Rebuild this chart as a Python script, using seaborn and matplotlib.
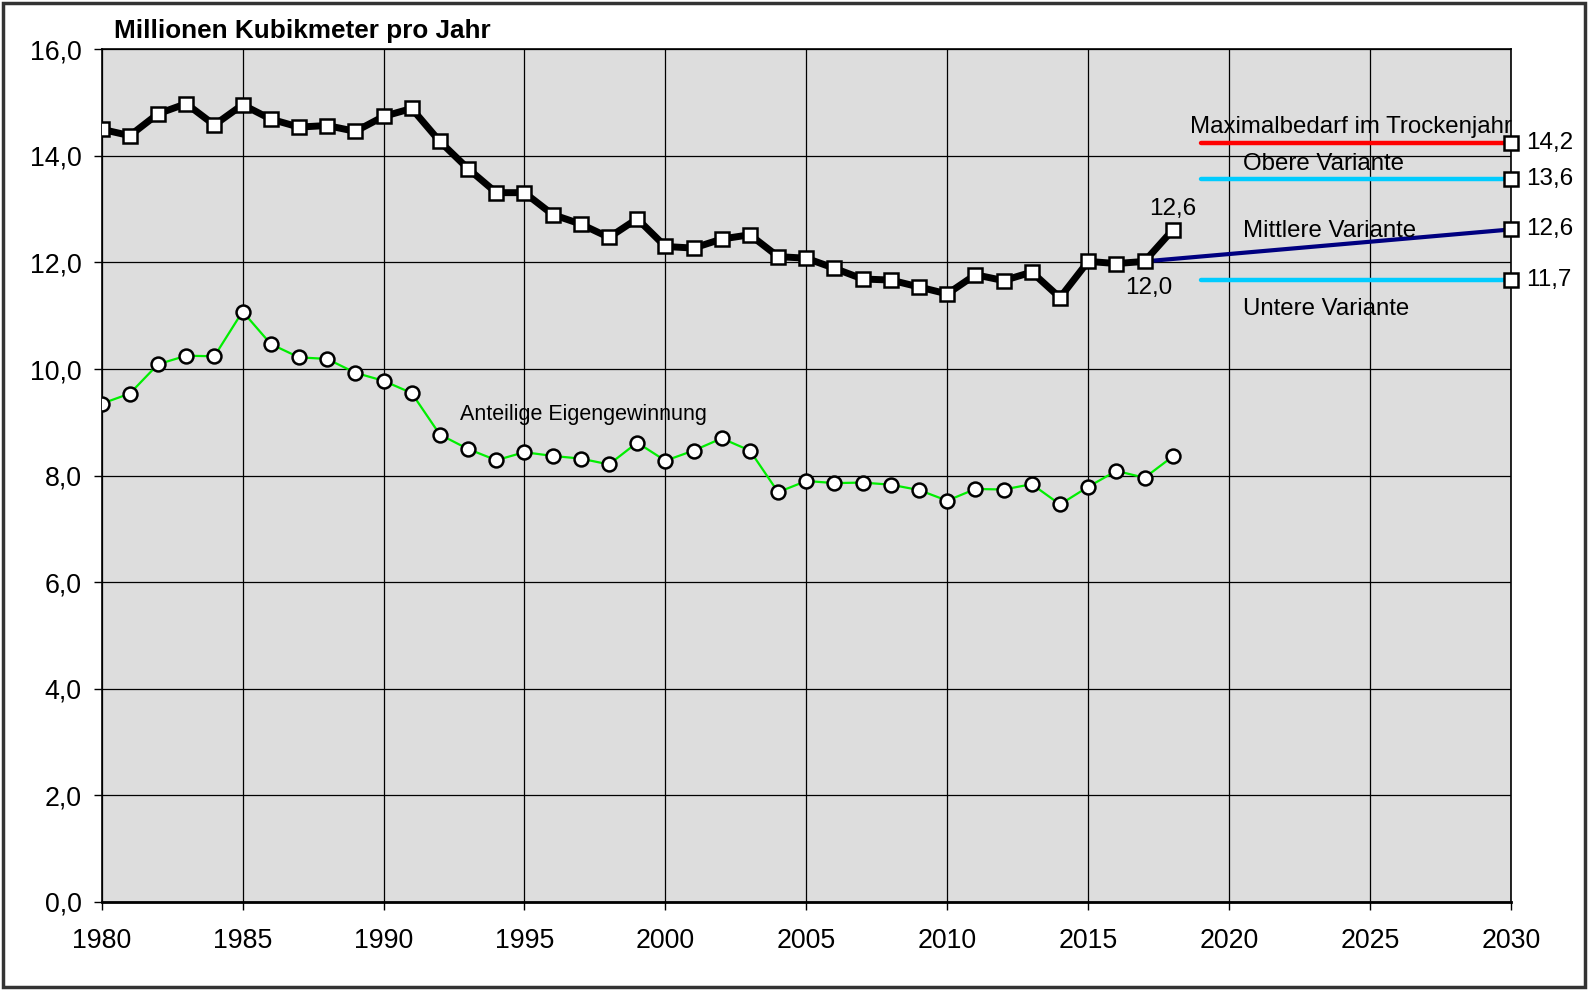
import numpy as np
import pandas as pd
import seaborn as sns
import matplotlib
matplotlib.use("Agg")
from matplotlib import pyplot as plt
from matplotlib.ticker import FuncFormatter, MultipleLocator
from matplotlib.patches import Rectangle

# --- data ---
years = list(range(1980, 2019))
total = [14.50, 14.38, 14.79, 14.98, 14.58, 14.96, 14.69, 14.54, 14.57, 14.46,
         14.74, 14.89, 14.27, 13.76, 13.31, 13.31, 12.90, 12.72, 12.47, 12.82,
         12.30, 12.27, 12.44, 12.52, 12.11, 12.08, 11.89, 11.69, 11.67, 11.54,
         11.41, 11.77, 11.66, 11.82, 11.34, 12.02, 11.98, 12.02, 12.61]
eigen = [9.35, 9.54, 10.09, 10.25, 10.24, 11.08, 10.47, 10.22, 10.19, 9.93,
         9.78, 9.55, 8.77, 8.50, 8.29, 8.44, 8.37, 8.32, 8.21, 8.62,
         8.28, 8.47, 8.70, 8.47, 7.69, 7.90, 7.86, 7.87, 7.83, 7.73,
         7.53, 7.75, 7.74, 7.84, 7.46, 7.79, 8.09, 7.96, 8.36]

proj_years = [2019, 2030]
max_demand = [14.25, 14.25]
upper = [13.57, 13.57]
lower = [11.68, 11.68]
mid_years = [2017, 2030]
mid = [12.02, 12.62]

proj_names = ["Maximalbedarf im Trockenjahr", "Obere Variante", "Mittlere Variante", "Untere Variante"]
proj_end_labels = ["14,2", "13,6", "12,6", "11,7"]

font = ["Liberation Sans", "DejaVu Sans"]
sns.set_style("white")
plt.rcParams["font.family"] = font
plt.rcParams["text.color"] = "black"
plt.rcParams["xtick.color"] = "black"
plt.rcParams["ytick.color"] = "black"

fig = plt.figure(figsize=(15.88, 9.9), dpi=100)
ax = fig.add_axes([0.064, 0.0889, 0.8875, 0.8613])
ax.set_facecolor("#DDDDDD")

hist = pd.DataFrame({"Jahr": years, "Gesamt": total, "Eigen": eigen})

sns.lineplot(data=hist, x="Jahr", y="Eigen", ax=ax, color="#00EE00", lw=1.6,
             marker="o", markersize=10, markerfacecolor="white",
             markeredgecolor="black", markeredgewidth=1.8, zorder=4)

# projection lines
sns.lineplot(x=mid_years, y=mid, ax=ax, color="#000080", lw=3, zorder=3)
sns.lineplot(x=proj_years, y=max_demand, ax=ax, color="#FF0000", lw=3.2, zorder=3)
sns.lineplot(x=proj_years, y=upper, ax=ax, color="#00CCFF", lw=3.2, zorder=3)
sns.lineplot(x=proj_years, y=lower, ax=ax, color="#00CCFF", lw=3.2, zorder=3)

sns.lineplot(data=hist, x="Jahr", y="Gesamt", ax=ax, color="black", lw=5,
             marker="s", markersize=10, markerfacecolor="white",
             markeredgecolor="black", markeredgewidth=1.8, zorder=5)

# end markers of projections
ends = [max_demand[-1], upper[-1], mid[-1], lower[-1]]
ax.plot([2030] * 4, ends, ls="none", marker="s", markersize=10,
        markerfacecolor="white", markeredgecolor="black", markeredgewidth=1.8,
        zorder=6, clip_on=False)
for v, lab in zip(ends, proj_end_labels):
    ax.annotate(lab, xy=(2030, v), xytext=(11, 0), textcoords="offset points",
                va="center", ha="left", fontsize=17.5, annotation_clip=False)

# projection names
ax.text(2018.6, 14.55, proj_names[0], fontsize=17.3, va="center", ha="left")
ax.text(2020.5, 13.84, proj_names[1], fontsize=17.3, va="center", ha="left")
ax.text(2020.5, 12.59, proj_names[2], fontsize=17.3, va="center", ha="left")
ax.text(2020.5, 11.13, proj_names[3], fontsize=17.3, va="center", ha="left")

ax.annotate("12,0", xy=(years[-2], total[-2]), xytext=(3, -19), textcoords="offset points",
            ha="center", va="center", fontsize=17.5)
ax.annotate("12,6", xy=(years[-1], total[-1]), xytext=(0, 15), textcoords="offset points",
            ha="center", va="center", fontsize=17.5)
ax.text(1992.7, 9.14, "Anteilige Eigengewinnung", fontsize=15.5, va="center", ha="left")

ax.set_xlim(1980, 2030)
ax.set_ylim(0, 16)
ax.xaxis.set_major_locator(MultipleLocator(5))
ax.yaxis.set_major_locator(MultipleLocator(2))
ax.yaxis.set_major_formatter(FuncFormatter(lambda v, p: f"{v:.1f}".replace(".", ",")))
ax.grid(True, color="black", lw=0.9)
ax.set_axisbelow(True)
ax.set_xlabel("")
ax.set_ylabel("")
ax.tick_params(axis="both", labelsize=19.3, length=6, width=1, direction="out",
               colors="black", left=True, bottom=True)
ax.tick_params(axis="y", pad=8.5)
ax.tick_params(axis="x", pad=13)
for s in ax.spines.values():
    s.set_color("black")
    s.set_linewidth(1.2)
ax.spines["bottom"].set_linewidth(2)

fig.text(0.0718, 0.9687, "Millionen Kubikmeter pro Jahr", fontsize=18.8,
         fontweight="bold", va="center", ha="left")

fig.patches.append(Rectangle((0.002, 0.003), 0.996, 0.994, transform=fig.transFigure,
                             fill=False, edgecolor="#333333", lw=2.5))

fig.savefig("out.png", dpi=100)
